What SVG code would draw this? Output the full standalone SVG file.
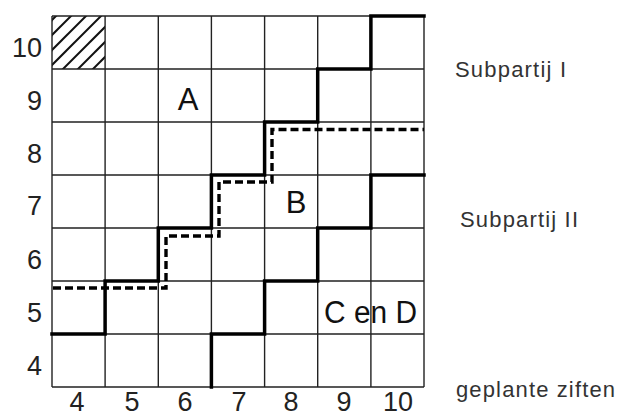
<svg xmlns="http://www.w3.org/2000/svg" width="617" height="417" viewBox="0 0 617 417">
<style>
.grid{stroke:#222;stroke-width:1.4;fill:none}
.thick{stroke:#000;stroke-width:3.5;fill:none;stroke-linejoin:miter;stroke-linecap:square}
.dash{stroke:#000;stroke-width:3.4;fill:none;stroke-dasharray:8 4}
.hatch{stroke:#111;stroke-width:2}
.num{font-family:"Liberation Sans",Arial,sans-serif;font-size:27px;fill:#222}
.big{font-family:"Liberation Sans",Arial,sans-serif;font-size:31px;fill:#111}
.side{font-family:"Liberation Sans",Arial,sans-serif;font-size:22px;fill:#333}
</style>
<defs>
<clipPath id="hc"><rect x="52" y="16" width="53" height="53"/></clipPath>
</defs>
<rect width="617" height="417" fill="#fff"/>
<g id="hatched-cell" clip-path="url(#hc)">
<line class="hatch" x1="40" y1="32" x2="60" y2="12"/>
<line class="hatch" x1="40" y1="47" x2="75" y2="12"/>
<line class="hatch" x1="40" y1="62" x2="90" y2="12"/>
<line class="hatch" x1="40" y1="77" x2="105" y2="12"/>
<line class="hatch" x1="50" y1="82" x2="120" y2="12"/>
<line class="hatch" x1="65" y1="82" x2="135" y2="12"/>
<line class="hatch" x1="80" y1="82" x2="150" y2="12"/>
</g>
<g id="grid">
<path class="grid" d="M52 16V387M105.1 16V387M158.3 16V387M211.4 16V387M264.6 16V387M317.7 16V387M370.9 16V387M424 16V387"/>
<path class="grid" d="M52 16H424M52 69H424M52 122H424M52 175H424M52 228H424M52 281H424M52 334H424M52 387H424"/>
</g>
<g id="connectors">
<path id="boundary-upper" class="thick" d="M52 334H105.1V281H158.3V228H211.4V175H264.6V122H317.7V69H370.9V16H424"/>
<path id="boundary-lower" class="thick" d="M211.4 387V334H264.6V281H317.7V228H370.9V175H424"/>
<path id="boundary-dashed" class="dash" d="M53 288H166V236H219V182H272V129.5H424"/>
</g>
<g id="row-labels" class="num" text-anchor="end">
<text x="42" y="57">10</text>
<text x="42" y="110">9</text>
<text x="42" y="163">8</text>
<text x="42" y="215">7</text>
<text x="42" y="269">6</text>
<text x="42" y="322">5</text>
<text x="42" y="375">4</text>
</g>
<g id="col-labels" class="num" text-anchor="middle">
<text x="77" y="411">4</text>
<text x="132" y="411">5</text>
<text x="185" y="411">6</text>
<text x="239" y="411">7</text>
<text x="291" y="411">8</text>
<text x="344" y="411">9</text>
<text x="398" y="411">10</text>
</g>
<g id="region-A"><text class="big" x="188" y="110" text-anchor="middle">A</text></g>
<g id="region-B"><text class="big" x="296" y="213" text-anchor="middle">B</text></g>
<g id="region-CD"><text class="big" x="324" y="323" textLength="93" lengthAdjust="spacingAndGlyphs">C en D</text></g>
<g id="label-subpartij-1"><text class="side" x="455" y="77" textLength="111" lengthAdjust="spacing">Subpartij  I</text></g>
<g id="label-subpartij-2"><text class="side" x="460" y="227" textLength="118" lengthAdjust="spacing">Subpartij  II</text></g>
<g id="label-geplante"><text class="side" x="456" y="397" textLength="159" lengthAdjust="spacing">geplante  ziften</text></g>
</svg>
